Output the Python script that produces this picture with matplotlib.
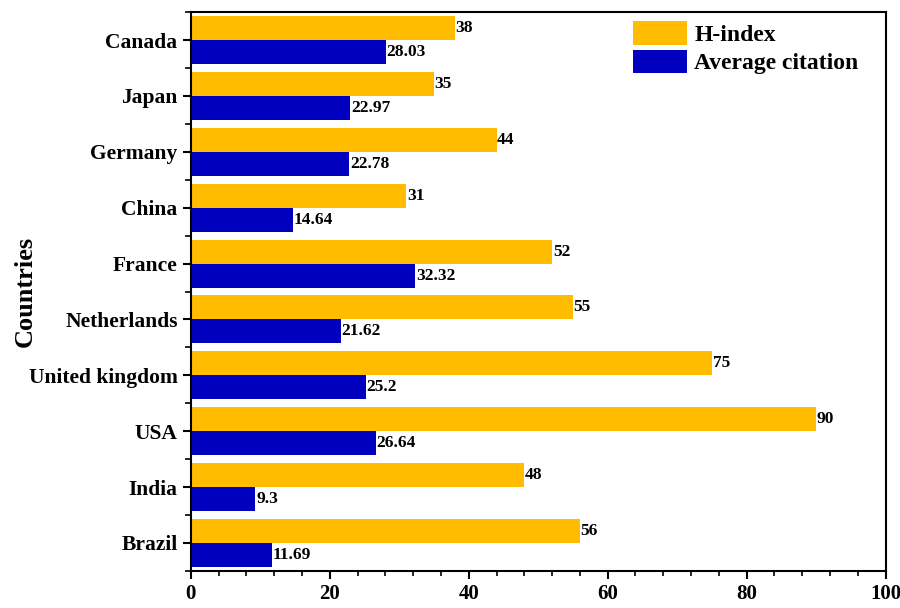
import matplotlib
matplotlib.use("Agg")
import matplotlib.pyplot as plt
import numpy as np
from matplotlib.ticker import MultipleLocator

countries = ["Canada", "Japan", "Germany", "China", "France", "Netherlands",
             "United kingdom", "USA", "India", "Brazil"]
h_index = [38, 35, 44, 31, 52, 55, 75, 90, 48, 56]
avg_citation = [28.03, 22.97, 22.78, 14.64, 32.32, 21.62, 25.2, 26.64, 9.3, 11.69]
avg_labels = ["28.03", "22.97", "22.78", "14.64", "32.32", "21.62", "25.2", "26.64", "9.3", "11.69"]

C_H = "#FFBC00"
C_AVG = "#0000BE"

plt.rcParams.update({
    "font.family": ["Liberation Serif", "DejaVu Serif"],
    "font.weight": "bold",
    "axes.labelweight": "bold",
})

fig = plt.figure(figsize=(9, 6.08), dpi=100)
ax = fig.add_axes([0.212, 0.061, 0.772, 0.919])

y = np.arange(len(countries))
bh = 0.43
ax.barh(y - bh / 2, h_index, height=bh, color=C_H, label="H-index", zorder=2)
ax.barh(y + bh / 2, avg_citation, height=bh, color=C_AVG, label="Average citation", zorder=2)

for yi, v in zip(y, h_index):
    ax.text(v + 0.1, yi - bh / 2, str(v), va="center", ha="left", fontsize=12.5, fontweight="bold")
for yi, v, s in zip(y, avg_citation, avg_labels):
    ax.text(v + 0.1, yi + bh / 2, s, va="center", ha="left", fontsize=12.5, fontweight="bold")

ax.set_xlim(0, 100)
ax.set_ylim(len(countries) - 0.5, -0.5)
ax.set_yticks(y)
ax.set_yticklabels(countries, fontsize=15.5, fontweight="bold")
ax.yaxis.set_minor_locator(MultipleLocator(1, offset=0.5))
ax.xaxis.set_major_locator(MultipleLocator(20))
ax.xaxis.set_minor_locator(MultipleLocator(4))
ax.tick_params(axis="x", labelsize=15, width=1.5, length=6, direction="out")
ax.tick_params(axis="x", which="minor", width=1.2, length=3.5)
ax.tick_params(axis="y", width=1.5, length=6, direction="out")
ax.tick_params(axis="y", which="minor", width=1.2, length=4)
for lab in ax.get_xticklabels():
    lab.set_fontweight("bold")
for sp in ax.spines.values():
    sp.set_linewidth(1.5)

ax.set_ylabel("Countries", fontsize=19, fontweight="bold")
ax.yaxis.set_label_coords(-0.222, 0.5)

ax.legend(loc="upper right", frameon=False, fontsize=17, handlelength=2.3,
          handleheight=1.15, labelspacing=0.15, handletextpad=0.3,
          borderaxespad=0.3, bbox_to_anchor=(0.985, 1.013))

fig.savefig("out.png", dpi=100)
